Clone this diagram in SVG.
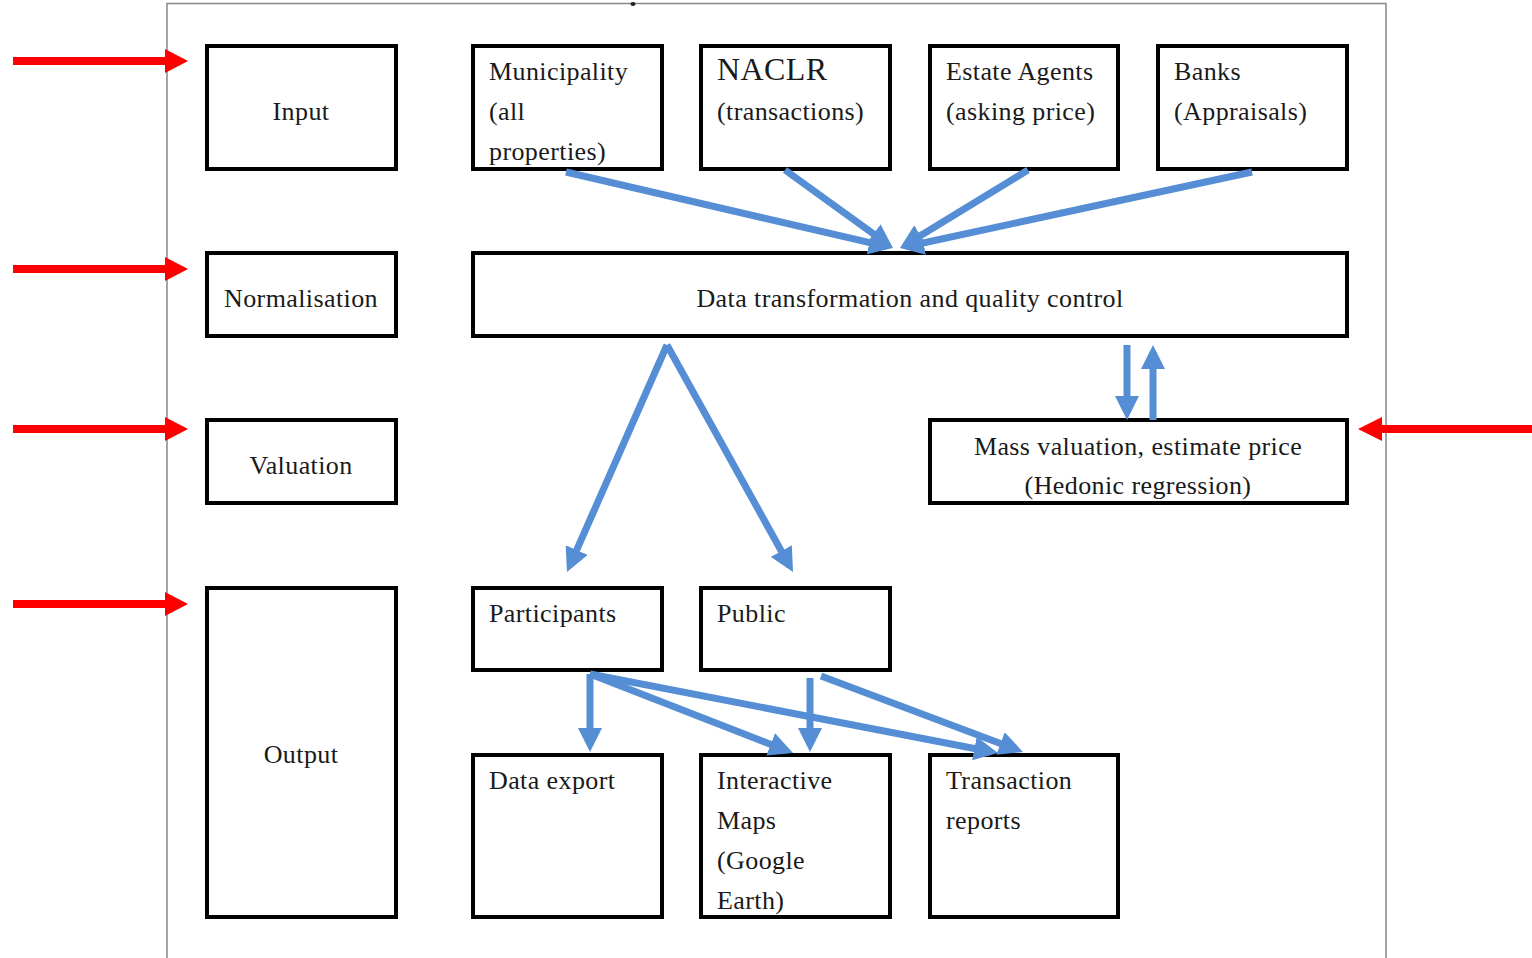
<svg xmlns="http://www.w3.org/2000/svg" width="1532" height="958" viewBox="0 0 1532 958">
<style>
.box{fill:#fff;stroke:#000;stroke-width:4}
.t{font-family:"Liberation Serif","Times New Roman",serif;font-size:26px;letter-spacing:0.4px;fill:#1a1a1a}
.c{text-anchor:middle}
.blue{stroke:#558ED5;stroke-width:7;fill:none;marker-end:url(#bh)}
.red{stroke:#FF0000;stroke-width:8;fill:none}
</style>
<defs>
<marker id="bh" markerUnits="userSpaceOnUse" markerWidth="24" markerHeight="24" viewBox="0 0 24 24" refX="17" refY="12" orient="auto">
<path d="M0,0 L24,12 L0,24 z" fill="#558ED5"/>
</marker>
</defs>
<rect width="1532" height="958" fill="#fff"/>
<g id="frame">
<path d="M167,958 V3.5 H1386 V958" fill="none" stroke="#888" stroke-width="1.5"/>
<ellipse cx="633" cy="4" rx="2.5" ry="2" fill="#222"/>
</g>
<g id="side-arrows">
<line class="red" x1="13" y1="61" x2="166" y2="61"/><polygon points="165,49 188,61 165,73" fill="#FF0000"/>
<line class="red" x1="13" y1="269" x2="166" y2="269"/><polygon points="165,257 188,269 165,281" fill="#FF0000"/>
<line class="red" x1="13" y1="429" x2="166" y2="429"/><polygon points="165,417 188,429 165,441" fill="#FF0000"/>
<line class="red" x1="13" y1="604" x2="166" y2="604"/><polygon points="165,592 188,604 165,616" fill="#FF0000"/>
<line class="red" x1="1380" y1="429" x2="1532" y2="429"/><polygon points="1382,417 1358,429 1382,441" fill="#FF0000"/>
</g>
<g id="n-input"><rect class="box" x="207" y="46" width="189" height="123"/><text class="t c" x="301" y="120">Input</text></g>
<g id="n-municipality"><rect class="box" x="473" y="46" width="189" height="123"/><text class="t" x="489" y="80">Municipality</text><text class="t" x="489" y="120">(all</text><text class="t" x="489" y="160">properties)</text></g>
<g id="n-naclr"><rect class="box" x="701" y="46" width="189" height="123"/><text class="t" x="717" y="80" style="font-size:32px">NACLR</text><text class="t" x="717" y="120">(transactions)</text></g>
<g id="n-estate"><rect class="box" x="930" y="46" width="188" height="123"/><text class="t" x="946" y="80">Estate Agents</text><text class="t" x="946" y="120">(asking price)</text></g>
<g id="n-banks"><rect class="box" x="1158" y="46" width="189" height="123"/><text class="t" x="1174" y="80">Banks</text><text class="t" x="1174" y="120">(Appraisals)</text></g>
<g id="n-normalisation"><rect class="box" x="207" y="253" width="189" height="83"/><text class="t c" x="301" y="307">Normalisation</text></g>
<g id="n-transform"><rect class="box" x="473" y="253" width="874" height="83"/><text class="t c" x="910" y="307">Data transformation and quality control</text></g>
<g id="n-valuation"><rect class="box" x="207" y="420" width="189" height="83"/><text class="t c" x="301" y="474">Valuation</text></g>
<g id="n-mass"><rect class="box" x="930" y="420" width="417" height="83"/><text class="t c" x="1138" y="455">Mass valuation, estimate price</text><text class="t c" x="1138" y="494">(Hedonic regression)</text></g>
<g id="n-output"><rect class="box" x="207" y="588" width="189" height="329"/><text class="t c" x="301" y="763">Output</text></g>
<g id="n-participants"><rect class="box" x="473" y="588" width="189" height="82"/><text class="t" x="489" y="622">Participants</text></g>
<g id="n-public"><rect class="box" x="701" y="588" width="189" height="82"/><text class="t" x="717" y="622">Public</text></g>
<g id="n-export"><rect class="box" x="473" y="755" width="189" height="162"/><text class="t" x="489" y="789">Data export</text></g>
<g id="n-maps"><rect class="box" x="701" y="755" width="189" height="162"/><text class="t" x="717" y="789">Interactive</text><text class="t" x="717" y="829">Maps</text><text class="t" x="717" y="869">(Google</text><text class="t" x="717" y="909">Earth)</text></g>
<g id="n-reports"><rect class="box" x="930" y="755" width="188" height="162"/><text class="t" x="946" y="789">Transaction</text><text class="t" x="946" y="829">reports</text></g>
<g id="connectors">
<line class="blue" x1="566" y1="172" x2="886" y2="246.4"/>
<line class="blue" x1="785" y1="170" x2="887.3" y2="243.9"/>
<line class="blue" x1="1028" y1="170" x2="906" y2="244.4"/>
<line class="blue" x1="1252" y1="172" x2="906.8" y2="246.5"/>
<line class="blue" x1="667" y1="345" x2="569.8" y2="565.6"/>
<line class="blue" x1="667" y1="345" x2="789.6" y2="565.9"/>
<line class="blue" x1="1127" y1="345" x2="1127" y2="413"/>
<line class="blue" x1="1153" y1="420" x2="1153" y2="352"/>
<line class="blue" x1="590" y1="674" x2="590" y2="745"/>
<line class="blue" x1="590" y1="674" x2="786.5" y2="750.5"/>
<line class="blue" x1="590" y1="674" x2="991.1" y2="751.7"/>
<line class="blue" x1="810" y1="678" x2="810" y2="745"/>
<line class="blue" x1="821" y1="676" x2="1016.4" y2="749.5"/>
</g>
</svg>
